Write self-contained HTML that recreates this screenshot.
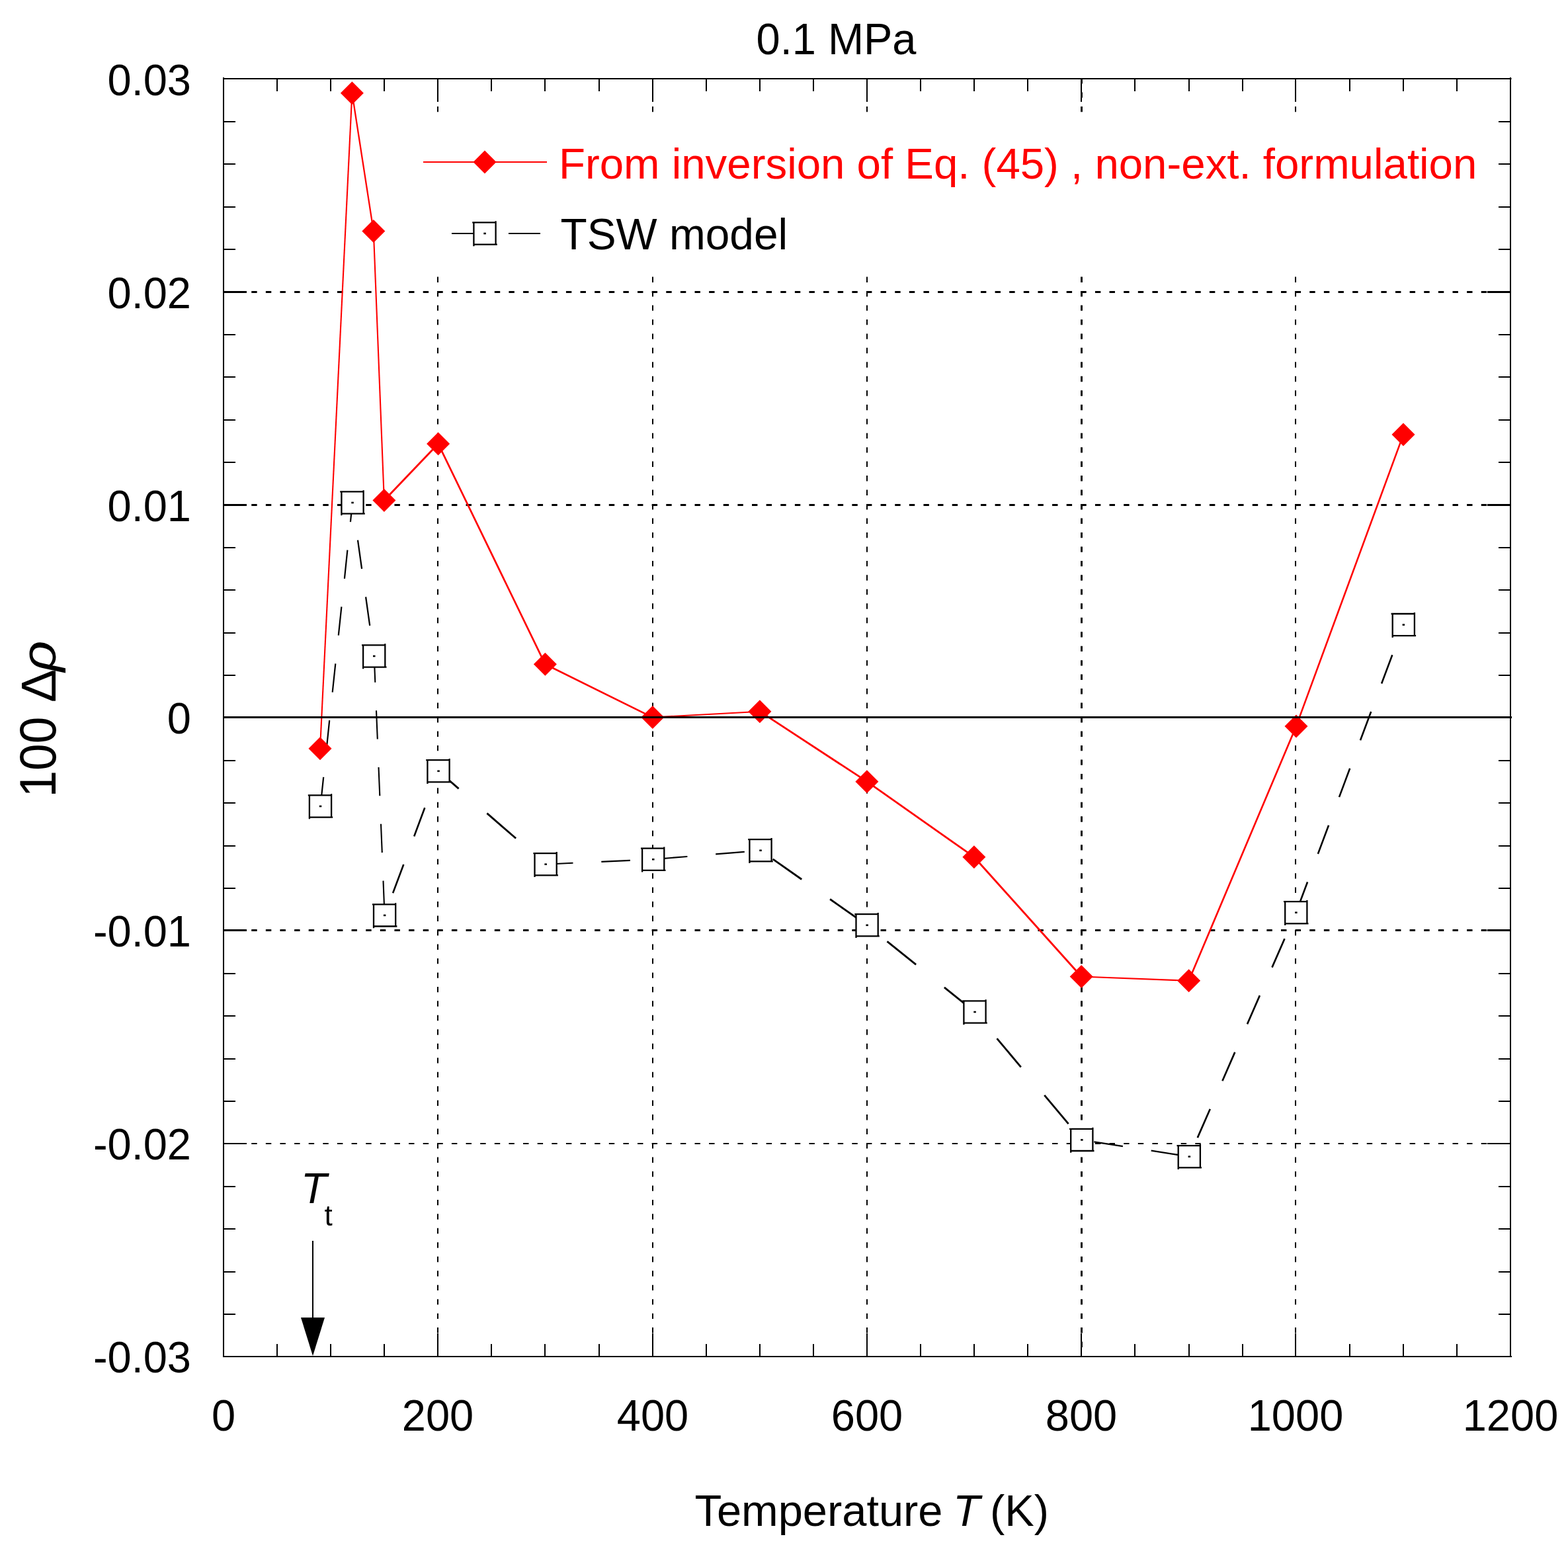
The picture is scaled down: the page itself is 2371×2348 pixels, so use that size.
<!DOCTYPE html>
<html><head><meta charset="utf-8"><title>0.1 MPa</title>
<style>html,body{margin:0;padding:0;background:#fff;}svg{display:block;}text{font-family:"Liberation Sans",Arial,sans-serif;}</style>
</head><body>
<svg width="2371" height="2348" viewBox="0 0 2371 2348">
<rect x="0" y="0" width="2371" height="2348" fill="#fff"/>
<g stroke="#000" stroke-width="2" fill="none">
<line x1="662" y1="119" x2="662" y2="2051" stroke-dasharray="8.400 13.067" stroke-dashoffset="1"/>
<line x1="987" y1="119" x2="987" y2="2051" stroke-dasharray="8.400 13.067" stroke-dashoffset="1"/>
<line x1="1311" y1="119" x2="1311" y2="2051" stroke-dasharray="8.400 13.067" stroke-dashoffset="1"/>
<line x1="1635.5" y1="119" x2="1635.5" y2="2051" stroke-dasharray="8.400 13.067" stroke-dashoffset="1" stroke-width="2.9"/>
<line x1="1959" y1="119" x2="1959" y2="2051" stroke-dasharray="8.400 13.067" stroke-dashoffset="1"/>
<line x1="338" y1="441.5" x2="2284" y2="441.5" stroke-dasharray="8.400 13.222" stroke-dashoffset="1" stroke-width="3"/>
<line x1="338" y1="763.5" x2="2284" y2="763.5" stroke-dasharray="8.400 13.222" stroke-dashoffset="1" stroke-width="3"/>
<line x1="338" y1="1406.5" x2="2284" y2="1406.5" stroke-dasharray="8.400 13.222" stroke-dashoffset="1" stroke-width="3"/>
<line x1="338" y1="1729" x2="2284" y2="1729" stroke-dasharray="8.400 13.222" stroke-dashoffset="1" stroke-width="2"/>
</g>
<rect x="620" y="171" width="1630" height="246" fill="#fff"/>
<path d="M484.6 1218.2L489.2 1174.9M493.7 1132.4L498.2 1089.1M502.7 1046.6L507.3 1003.3M511.8 960.7L516.4 917.4M520.9 874.9L525.4 831.6M529.9 789.1L533.0 760.0" stroke="#000" stroke-width="2.20" fill="none"/>
<path d="M533.0 760.0L535.0 774.2M541.0 816.7L547.1 860.0M553.1 902.5L559.2 945.8M565.2 988.4L565.7 992.0" stroke="#000" stroke-width="2.26" fill="none"/>
<path d="M565.7 992.0L567.3 1031.7M569.0 1074.2L570.8 1117.5M572.5 1160.0L574.3 1203.3M576.0 1245.8L577.8 1289.1M579.5 1331.6L581.2 1374.9" stroke="#000" stroke-width="2.08" fill="none"/>
<path d="M594.1 1350.3L610.3 1307.0M626.2 1264.5L642.3 1221.2M658.2 1178.7L663.0 1165.8M1960.9 1376.8L1977.1 1333.5M1992.9 1291.0L2009.1 1247.7M2025.0 1205.1L2041.2 1161.8M2057.0 1119.3L2073.2 1076.0M2089.1 1033.5L2105.3 990.2M2121.1 947.7L2122.3 944.6" stroke="#000" stroke-width="2.57" fill="none"/>
<path d="M663.0 1165.8L693.6 1192.4M736.4 1229.6L780.1 1267.5M822.9 1304.8L825.1 1306.7M1507.5 1570.1L1543.8 1613.4M1579.3 1655.9L1615.6 1699.2" stroke="#000" stroke-width="2.82" fill="none"/>
<path d="M825.1 1306.7L866.5 1304.8M909.3 1302.9L952.9 1300.9" stroke="#000" stroke-width="2.09" fill="none"/>
<path d="M995.8 1298.6L1039.4 1295.0M1082.2 1291.4L1125.8 1287.8" stroke="#000" stroke-width="2.16" fill="none"/>
<path d="M1168.6 1298.9L1212.2 1329.5M1255.1 1359.5L1298.7 1390.1" stroke="#000" stroke-width="2.79" fill="none"/>
<path d="M1341.5 1423.3L1385.1 1458.4M1427.9 1492.9L1471.6 1528.0" stroke="#000" stroke-width="2.81" fill="none"/>
<path d="M1654.3 1726.3L1697.9 1733.1M1740.7 1739.7L1784.3 1746.5" stroke="#000" stroke-width="2.28" fill="none"/>
<path d="M1810.8 1720.1L1829.8 1676.8M1848.4 1634.2L1867.3 1590.9M1886.0 1548.4L1904.9 1505.1M1923.5 1462.6L1942.5 1419.3" stroke="#000" stroke-width="2.63" fill="none"/>
<rect x="467.9" y="1202.4" width="33.2" height="33.2" fill="#fff"/><path d="M465.8 1202.4H501.1M501.1 1200.2V1235.6M467.9 1235.6H503.2M467.9 1202.4V1238.2" stroke="#000" stroke-width="2.3" fill="none"/><rect x="482.8" y="1217.7" width="3.5" height="2.6" fill="#000"/>
<rect x="516.4" y="743.4" width="33.2" height="33.2" fill="#fff"/><path d="M514.2 743.4H549.6M549.6 741.2V776.6M516.4 776.6H551.8M516.4 743.4V779.2" stroke="#000" stroke-width="2.3" fill="none"/><rect x="531.3" y="758.7" width="3.5" height="2.6" fill="#000"/>
<rect x="549.1" y="975.4" width="33.2" height="33.2" fill="#fff"/><path d="M547.0 975.4H582.3M582.3 973.2V1008.6M549.1 1008.6H584.5M549.1 975.4V1011.2" stroke="#000" stroke-width="2.3" fill="none"/><rect x="564.0" y="990.7" width="3.5" height="2.6" fill="#000"/>
<rect x="565.0" y="1367.3" width="33.2" height="33.2" fill="#fff"/><path d="M562.9 1367.3H598.2M598.2 1365.2V1400.5M565.0 1400.5H600.4M565.0 1367.3V1403.2" stroke="#000" stroke-width="2.3" fill="none"/><rect x="579.9" y="1382.6" width="3.5" height="2.6" fill="#000"/>
<rect x="646.4" y="1149.2" width="33.2" height="33.2" fill="#fff"/><path d="M644.2 1149.2H679.6M679.6 1147.0V1182.4M646.4 1182.4H681.8M646.4 1149.2V1185.0" stroke="#000" stroke-width="2.3" fill="none"/><rect x="661.3" y="1164.5" width="3.5" height="2.6" fill="#000"/>
<rect x="808.5" y="1290.1" width="33.2" height="33.2" fill="#fff"/><path d="M806.4 1290.1H841.7M841.7 1288.0V1323.3M808.5 1323.3H843.9M808.5 1290.1V1326.0" stroke="#000" stroke-width="2.3" fill="none"/><rect x="823.4" y="1305.4" width="3.5" height="2.6" fill="#000"/>
<rect x="971.1" y="1282.7" width="33.2" height="33.2" fill="#fff"/><path d="M969.0 1282.7H1004.3M1004.3 1280.5V1315.9M971.1 1315.9H1006.5M971.1 1282.7V1318.5" stroke="#000" stroke-width="2.3" fill="none"/><rect x="986.0" y="1298.0" width="3.5" height="2.6" fill="#000"/>
<rect x="1133.4" y="1269.2" width="33.2" height="33.2" fill="#fff"/><path d="M1131.2 1269.2H1166.6M1166.6 1267.0V1302.4M1133.4 1302.4H1168.8M1133.4 1269.2V1305.0" stroke="#000" stroke-width="2.3" fill="none"/><rect x="1148.3" y="1284.5" width="3.5" height="2.6" fill="#000"/>
<rect x="1294.5" y="1382.2" width="33.2" height="33.2" fill="#fff"/><path d="M1292.3 1382.2H1327.7M1327.7 1380.0V1415.4M1294.5 1415.4H1329.8M1294.5 1382.2V1418.0" stroke="#000" stroke-width="2.3" fill="none"/><rect x="1309.4" y="1397.5" width="3.5" height="2.6" fill="#000"/>
<rect x="1457.4" y="1513.4" width="33.2" height="33.2" fill="#fff"/><path d="M1455.2 1513.4H1490.6M1490.6 1511.2V1546.6M1457.4 1546.6H1492.8M1457.4 1513.4V1549.2" stroke="#000" stroke-width="2.3" fill="none"/><rect x="1472.3" y="1528.7" width="3.5" height="2.6" fill="#000"/>
<rect x="1619.2" y="1706.8" width="33.2" height="33.2" fill="#fff"/><path d="M1617.0 1706.8H1652.4M1652.4 1704.7V1740.0M1619.2 1740.0H1654.5M1619.2 1706.8V1742.7" stroke="#000" stroke-width="2.3" fill="none"/><rect x="1634.1" y="1722.1" width="3.5" height="2.6" fill="#000"/>
<rect x="1781.7" y="1732.1" width="33.2" height="33.2" fill="#fff"/><path d="M1779.5 1732.1H1814.9M1814.9 1730.0V1765.3M1781.7 1765.3H1817.0M1781.7 1732.1V1768.0" stroke="#000" stroke-width="2.3" fill="none"/><rect x="1796.6" y="1747.4" width="3.5" height="2.6" fill="#000"/>
<rect x="1943.2" y="1363.1" width="33.2" height="33.2" fill="#fff"/><path d="M1941.0 1363.1H1976.4M1976.4 1361.0V1396.3M1943.2 1396.3H1978.5M1943.2 1363.1V1399.0" stroke="#000" stroke-width="2.3" fill="none"/><rect x="1958.1" y="1378.4" width="3.5" height="2.6" fill="#000"/>
<rect x="2105.7" y="928.0" width="33.2" height="33.2" fill="#fff"/><path d="M2103.6 928.0H2138.9M2138.9 925.9V961.2M2105.7 961.2H2141.1M2105.7 928.0V963.9" stroke="#000" stroke-width="2.3" fill="none"/><rect x="2120.6" y="943.3" width="3.5" height="2.6" fill="#000"/>
<line x1="484.0" y1="1131.8" x2="532.4" y2="140.8" stroke="#f00" stroke-width="2.10"/>
<line x1="532.4" y1="140.8" x2="564.8" y2="349.4" stroke="#f00" stroke-width="2.28"/>
<line x1="564.8" y1="349.4" x2="580.9" y2="756.4" stroke="#f00" stroke-width="2.08"/>
<line x1="580.9" y1="756.4" x2="662.6" y2="670.9" stroke="#f00" stroke-width="2.83"/>
<line x1="662.6" y1="670.9" x2="824.4" y2="1004.3" stroke="#f00" stroke-width="2.67"/>
<line x1="824.4" y1="1004.3" x2="986.8" y2="1084.6" stroke="#f00" stroke-width="2.68"/>
<line x1="986.8" y1="1084.6" x2="1148.9" y2="1075.7" stroke="#f00" stroke-width="2.11"/>
<line x1="1148.9" y1="1075.7" x2="1310.9" y2="1181.7" stroke="#f00" stroke-width="2.77"/>
<line x1="1310.9" y1="1181.7" x2="1472.9" y2="1295.7" stroke="#f00" stroke-width="2.79"/>
<line x1="1472.9" y1="1295.7" x2="1635.2" y2="1476.5" stroke="#f00" stroke-width="2.82"/>
<line x1="1635.2" y1="1476.5" x2="1797.6" y2="1482.8" stroke="#f00" stroke-width="2.08"/>
<line x1="1797.6" y1="1482.8" x2="1960.0" y2="1097.9" stroke="#f00" stroke-width="2.62"/>
<line x1="1960.0" y1="1097.9" x2="2122.0" y2="657.1" stroke="#f00" stroke-width="2.57"/>
<polygon points="484.0,1114.3 501.5,1131.8 484.0,1149.3 466.5,1131.8" fill="#f00"/>
<polygon points="532.4,123.3 549.9,140.8 532.4,158.3 514.9,140.8" fill="#f00"/>
<polygon points="564.8,331.9 582.3,349.4 564.8,366.9 547.3,349.4" fill="#f00"/>
<polygon points="580.9,738.9 598.4,756.4 580.9,773.9 563.4,756.4" fill="#f00"/>
<polygon points="662.6,653.4 680.1,670.9 662.6,688.4 645.1,670.9" fill="#f00"/>
<polygon points="824.4,986.8 841.9,1004.3 824.4,1021.8 806.9,1004.3" fill="#f00"/>
<polygon points="986.8,1067.1 1004.3,1084.6 986.8,1102.1 969.3,1084.6" fill="#f00"/>
<polygon points="1148.9,1058.2 1166.4,1075.7 1148.9,1093.2 1131.4,1075.7" fill="#f00"/>
<polygon points="1310.9,1164.2 1328.4,1181.7 1310.9,1199.2 1293.4,1181.7" fill="#f00"/>
<polygon points="1472.9,1278.2 1490.4,1295.7 1472.9,1313.2 1455.4,1295.7" fill="#f00"/>
<polygon points="1635.2,1459.0 1652.7,1476.5 1635.2,1494.0 1617.7,1476.5" fill="#f00"/>
<polygon points="1797.6,1465.3 1815.1,1482.8 1797.6,1500.3 1780.1,1482.8" fill="#f00"/>
<polygon points="1960.0,1080.4 1977.5,1097.9 1960.0,1115.4 1942.5,1097.9" fill="#f00"/>
<polygon points="2122.0,639.6 2139.5,657.1 2122.0,674.6 2104.5,657.1" fill="#f00"/>
<line x1="338" y1="1084.5" x2="2286" y2="1084.5" stroke="#000" stroke-width="3"/>
<g stroke="#000" stroke-width="2" fill="none">
<path d="M337 119H2285.5M2284 117V2052M338 2051H2286M338 117V2052"/>
<path d="M338 119V154M338 2051V2016M419 119V138M419 2051V2032M500 119V138M500 2051V2032M581 119V138M581 2051V2032M662 119V154M662 2051V2016M743 119V138M743 2051V2032M824 119V138M824 2051V2032M906 119V138M906 2051V2032M987 119V154M987 2051V2016M1068 119V138M1068 2051V2032M1149 119V138M1149 2051V2032M1230 119V138M1230 2051V2032M1311 119V154M1311 2051V2016M1392 119V138M1392 2051V2032M1473 119V138M1473 2051V2032M1554 119V138M1554 2051V2032M1635 119V154M1635 2051V2016M1716 119V138M1716 2051V2032M1798 119V138M1798 2051V2032M1879 119V138M1879 2051V2032M1959 119V154M1959 2051V2016M2041 119V138M2041 2051V2032M2122 119V138M2122 2051V2032M2203 119V138M2203 2051V2032M2284 119V154M2284 2051V2016M338 119H373M2284 119H2249M338 184H356M2284 184H2266M338 248H356M2284 248H2266M338 313H356M2284 313H2266M338 377H356M2284 377H2266M338 506H356M2284 506H2266M338 570H356M2284 570H2266M338 635H356M2284 635H2266M338 699H356M2284 699H2266M338 828H356M2284 828H2266M338 892H356M2284 892H2266M338 957H356M2284 957H2266M338 1021H356M2284 1021H2266M338 1085H373M2284 1085H2249M338 1150H356M2284 1150H2266M338 1214H356M2284 1214H2266M338 1279H356M2284 1279H2266M338 1343H356M2284 1343H2266M338 1472H356M2284 1472H2266M338 1536H356M2284 1536H2266M338 1601H356M2284 1601H2266M338 1665H356M2284 1665H2266M338 1794H356M2284 1794H2266M338 1858H356M2284 1858H2266M338 1923H356M2284 1923H2266M338 1987H356M2284 1987H2266M338 2051H373M2284 2051H2249"/>
<path d="M338 441.5H373M2284 441.5H2249" stroke-width="3"/>
<path d="M338 763.5H373M2284 763.5H2249" stroke-width="3"/>
<path d="M338 1406.5H373M2284 1406.5H2249" stroke-width="3"/>
<path d="M338 1729H373M2284 1729H2249" stroke-width="2"/>
</g>
<text transform="translate(338.0,2163.3) scale(1,1.035)" font-size="65" text-anchor="middle">0</text>
<text transform="translate(662.0,2163.3) scale(1,1.035)" font-size="65" text-anchor="middle">200</text>
<text transform="translate(987.0,2163.3) scale(1,1.035)" font-size="65" text-anchor="middle">400</text>
<text transform="translate(1311.0,2163.3) scale(1,1.035)" font-size="65" text-anchor="middle">600</text>
<text transform="translate(1635.0,2163.3) scale(1,1.035)" font-size="65" text-anchor="middle">800</text>
<text transform="translate(1959.0,2163.3) scale(1,1.035)" font-size="65" text-anchor="middle">1000</text>
<text transform="translate(2284.0,2163.3) scale(1,1.035)" font-size="65" text-anchor="middle">1200</text>
<text transform="translate(289.0,144.0) scale(1,1.035)" font-size="65" text-anchor="end">0.03</text>
<text transform="translate(289.0,465.7) scale(1,1.035)" font-size="65" text-anchor="end">0.02</text>
<text transform="translate(289.0,787.5) scale(1,1.035)" font-size="65" text-anchor="end">0.01</text>
<text transform="translate(289.0,1109.2) scale(1,1.035)" font-size="65" text-anchor="end">0</text>
<text transform="translate(289.0,1431.0) scale(1,1.035)" font-size="65" text-anchor="end">-0.01</text>
<text transform="translate(289.0,1752.8) scale(1,1.035)" font-size="65" text-anchor="end">-0.02</text>
<text transform="translate(289.0,2074.5) scale(1,1.035)" font-size="65" text-anchor="end">-0.03</text>
<text transform="translate(1264.5,82.0) scale(1,1.035)" font-size="65" text-anchor="middle">0.1 MPa</text>
<text y="2307" font-size="66.8"><tspan x="1050.5">Temperature</tspan> <tspan x="1441.0" font-style="italic">T</tspan> <tspan x="1497.0">(K)</tspan></text>
<text transform="translate(84.3,1205.5) rotate(-90) scale(1,1.075)" font-size="73">100</text>
<text transform="translate(84,1062.0) rotate(-90)" font-size="75" font-family="Liberation Serif">Δ</text>
<text transform="translate(84,1015.5) rotate(-90) scale(1.1,1)" font-size="74" font-family="Liberation Serif" font-style="italic">ρ</text>
<line x1="640" y1="245" x2="827" y2="245" stroke="#f00" stroke-width="2"/>
<polygon points="733.0,227.5 750.5,245.0 733.0,262.5 715.5,245.0" fill="#f00"/>
<path d="M683 353H716M769 353H817" stroke="#000" stroke-width="2"/>
<rect x="716.4" y="336.4" width="33.2" height="33.2" fill="#fff"/><path d="M714.2 336.4H749.6M749.6 334.2V369.6M716.4 369.6H751.8M716.4 336.4V372.2" stroke="#000" stroke-width="2.3" fill="none"/><rect x="731.3" y="351.7" width="3.5" height="2.6" fill="#000"/>
<text x="845" y="270" font-size="65.4" fill="#f00">From inversion of Eq. (45) , non-ext. formulation</text>
<text x="847.5" y="377" font-size="65.8" fill="#000">TSW model</text>
<text x="455" y="1819" font-size="64"><tspan font-style="italic">T</tspan></text>
<text x="490.5" y="1853" font-size="44">t</text>
<line x1="473" y1="1876" x2="473" y2="1995" stroke="#000" stroke-width="2"/>
<polygon points="455,1992 491,1992 473,2050" fill="#000"/>
</svg>
</body></html>
